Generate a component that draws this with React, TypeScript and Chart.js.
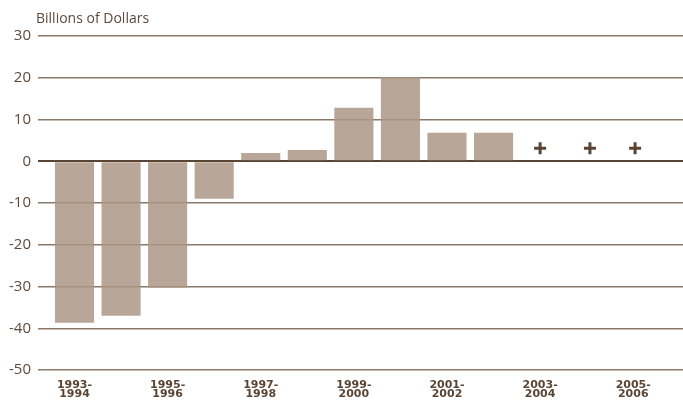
import React, { useEffect, useRef } from "react";
import { Chart, registerables } from "chart.js";

Chart.register(...registerables);

const categoryIndex = [0, 1, 2, 3, 4, 5, 6, 7, 8, 9];
const values = [-38.7, -37.0, -30.3, -9.0, 2.0, 2.7, 12.8, 20.1, 6.8, 6.8];
const plusIndex = [10, 11.07, 12.04];
const plusValues = [3.1, 3.1, 3.1];
const tickPositions = [0, 2, 4, 6, 8, 10, 12];
const tickLabels = [
  ["1993-", "1994"],
  ["1995-", "1996"],
  ["1997-", "1998"],
  ["1999-", "2000"],
  ["2001-", "2002"],
  ["2003-", "2004"],
  ["2005-", "2006"],
];
const yMin = -50;
const yMax = 30;
const yStep = 10;
const axisTitle = "Billions of Dollars";

const TEXT = "#5c4a3e";
const DARK = "#5a4535";

export default function App() {
  const ref = useRef<HTMLCanvasElement | null>(null);
  useEffect(() => {
    document.body.style.margin = "0";
    const canvas = ref.current!;
    const titlePlugin = {
      id: "axisTitle",
      afterDraw(chart: any) {
        const { ctx, chartArea } = chart;
        ctx.save();
        ctx.font = "14px 'Open Sans'";
        ctx.fillStyle = TEXT;
        ctx.textAlign = "left";
        ctx.textBaseline = "alphabetic";
        ctx.fillText(axisTitle, chartArea.left - 2, 23);
        ctx.restore();
      },
    };
    const chart = new Chart(canvas, {
      type: "bar",
      data: {
        datasets: [
          {
            type: "bar",
            data: categoryIndex.map((x, i) => ({ x, y: values[i] })),
            backgroundColor: "rgba(171,150,134,0.85)",
            borderWidth: 0,
            categoryPercentage: 1,
            barPercentage: 0.84,
          } as any,
          {
            type: "scatter",
            data: plusIndex.map((x, i) => ({ x, y: plusValues[i] })),
            pointStyle: "cross",
            pointRadius: 6,
            pointBorderWidth: 3,
            pointBorderColor: DARK,
            pointBackgroundColor: DARK,
            showLine: false,
          } as any,
        ],
      },
      options: {
        animation: false,
        responsive: false,
        events: [],
        layout: { autoPadding: false, padding: { top: 36, left: 0, right: 0, bottom: 0 } },
        plugins: {
          legend: { display: false },
          tooltip: { enabled: false },
          title: { display: false },
        },
        scales: {
          x: {
            type: "linear",
            offset: false,
            min: -0.784,
            max: 13.069,
            grid: { display: false, drawTicks: false, offset: false },
            border: { display: false },
            afterBuildTicks: (scale: any) => {
              scale.ticks = tickPositions.map((v) => ({ value: v }));
            },
            afterFit: (scale: any) => {
              scale.height = 32;
            },
            ticks: {
              autoSkip: false,
              maxRotation: 0,
              padding: 10,
              color: DARK,
              font: { family: "'DejaVu Sans'", size: 11, weight: "bold", lineHeight: 0.88 },
              callback: (v: any) => {
                const i = tickPositions.indexOf(Number(v));
                return i >= 0 ? tickLabels[i] : "";
              },
            },
          },
          y: {
            min: yMin,
            max: yMax,
            afterFit: (scale: any) => {
              scale.width = 38;
            },
            ticks: {
              stepSize: yStep,
              padding: 7,
              color: TEXT,
              font: { family: "'Open Sans'", size: 15 },
            },
            border: { display: false },
            grid: {
              drawTicks: false,
              color: (c: any) => (c.tick && c.tick.value === 0 ? DARK : "#8c7868"),
              lineWidth: (c: any) => (c.tick && c.tick.value === 0 ? 2 : 1.5),
            },
          },
        },
      } as any,
      plugins: [titlePlugin],
    });
    return () => chart.destroy();
  }, []);
  return (
    <div style={{ position: "absolute", left: 0, top: 0, width: 683, height: 402 }}>
      <canvas ref={ref} width={683} height={402} />
    </div>
  );
}
